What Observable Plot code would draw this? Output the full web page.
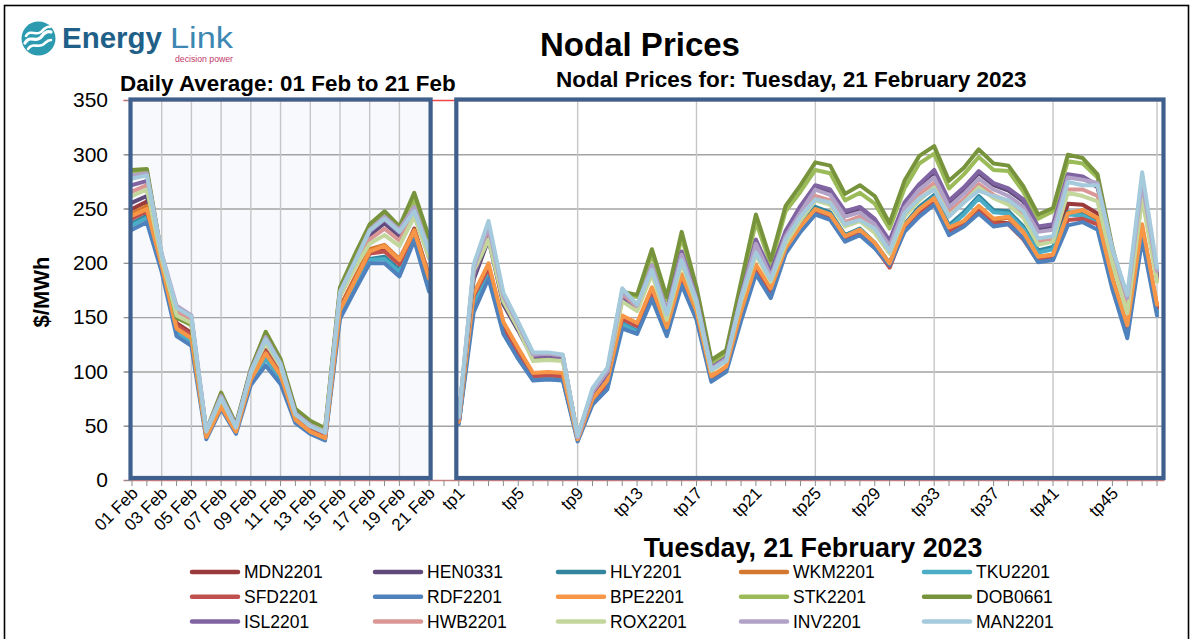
<!DOCTYPE html>
<html><head><meta charset="utf-8">
<script src="https://cdn.jsdelivr.net/npm/d3@7"></script>
<script src="https://cdn.jsdelivr.net/npm/@observablehq/plot@0.6"></script>
<style>
body{margin:0;background:#fff;}
#wrap{position:relative;width:1192px;height:639px;overflow:hidden;background:#fff;font-family:"Liberation Sans",Arial,sans-serif;}
#chart{position:absolute;left:0;top:0;}
#over{position:absolute;left:0;top:0;pointer-events:none;}
</style></head><body>
<div id="wrap"><div id="chart"></div>
<svg id="over" width="1192" height="639" font-family="Liberation Sans, Arial, sans-serif"></svg>
</div>
<script>
// ---- categories & tick labels ----
const dates = ["01 Feb","02 Feb","03 Feb","04 Feb","05 Feb","06 Feb","07 Feb","08 Feb","09 Feb","10 Feb","11 Feb","12 Feb","13 Feb","14 Feb","15 Feb","16 Feb","17 Feb","18 Feb","19 Feb","20 Feb","21 Feb"];
const periods = ["tp1","tp2","tp3","tp4","tp5","tp6","tp7","tp8","tp9","tp10","tp11","tp12","tp13","tp14","tp15","tp16","tp17","tp18","tp19","tp20","tp21","tp22","tp23","tp24","tp25","tp26","tp27","tp28","tp29","tp30","tp31","tp32","tp33","tp34","tp35","tp36","tp37","tp38","tp39","tp40","tp41","tp42","tp43","tp44","tp45","tp46","tp47","tp48"];
const gapLabel = " ";
const dateTicks = ["01 Feb","03 Feb","05 Feb","07 Feb","09 Feb","11 Feb","13 Feb","15 Feb","17 Feb","19 Feb","21 Feb"];
const tpTicks = ["tp1","tp5","tp9","tp13","tp17","tp21","tp25","tp29","tp33","tp37","tp41","tp45"];
const dateGrid = ["03 Feb","05 Feb","07 Feb","09 Feb","11 Feb","13 Feb","15 Feb","17 Feb","19 Feb"];
const tpGrid = ["tp9","tp17","tp25","tp33","tp41","tp48"];
const yTicks = [0,50,100,150,200,250,300,350];

// ---- series ----
const seriesNames = ["MDN2201","HEN0331","HLY2201","WKM2201","TKU2201","SFD2201","RDF2201","BPE2201","STK2201","DOB0661","ISL2201","HWB2201","ROX2201","INV2201","MAN2201"];
const seriesColors = ["#9b3a3a","#604a7b","#31859c","#d4782f","#4bacc6","#c0504d","#4f81bd","#f79646","#9bbb59","#77933c","#8064a2","#d99694","#c3d69b","#b3a2c7","#a5cadb"];

// daily averages 01 Feb .. 21 Feb
const dailyMDN2201 = [250,257,199,145,136,42,72,47,95,120,100,58,47,41,158,185,211,214,201,232,188];
const dailyHEN0331 = [256,262,204,156,147,44,77,50,100,130,107,62,51,44,170,197,226,237,225,248,205];
const dailyHLY2201 = [237,244,196,138,129,41,70,46,92,113,95,56,46,40,154,181,204,206,194,228,182];
const dailyWKM2201 = [246,253,199,143,133,41,70,46,94,119,99,57,46,40,160,187,213,217,204,231,188];
const dailyTKU2201 = [235,242,195,137,128,41,69,46,91,112,94,56,45,40,153,180,203,204,192,226,181];
const dailySFD2201 = [241,248,198,143,134,42,71,47,95,119,99,57,46,40,158,185,209,211,199,230,186];
const dailyRDF2201 = [231,238,192,133,124,38,66,43,88,106,89,53,43,37,149,175,200,200,188,221,174];
const dailyBPE2201 = [244,250,198,140,131,40,68,45,93,117,97,56,45,39,157,184,211,216,203,230,186];
const dailySTK2201 = [284,285,207,150,143,45,79,51,102,134,110,64,54,47,176,205,233,244,230,258,218];
const dailyDOB0661 = [286,287,207,150,144,46,81,52,103,137,112,66,55,48,178,208,236,248,234,265,224];
const dailyISL2201 = [272,276,206,157,149,45,77,50,101,131,107,62,51,44,172,200,229,240,228,250,208];
const dailyHWB2201 = [266,272,205,155,148,45,75,49,99,128,105,61,50,44,171,198,222,232,221,246,207];
const dailyROX2201 = [262,268,204,152,145,45,75,49,99,127,105,61,51,45,170,196,218,226,216,243,205];
const dailyINV2201 = [281,283,209,161,152,46,78,50,101,132,108,62,51,44,174,202,231,243,231,252,212];
const dailyMAN2201 = [278,281,208,159,151,46,76,49,100,130,107,61,50,44,173,201,230,241,229,248,211];

// trading periods tp1 .. tp48, 21 February 2023
const tpMDN2201 = [54,172,197,143,119,96,97,96,39,75, 90,150,143,176,139,187,154,95,104,153, 197,174,211,231,247,242,222,228,216,198, 232,248,258,230,236,250,238,237,223,203, 207,255,254,246,186,142,232,160];
const tpHEN0331 = [56,185,222,162,138,112,113,112,40,80, 98,168,158,196,155,210,168,104,113,170, 220,190,228,251,269,266,246,250,239,219, 254,272,284,256,268,283,272,267,257,232, 234,281,279,270,212,165,270,186];
const tpHLY2201 = [53,163,190,139,116,94,95,94,38,73, 87,145,138,172,136,184,151,94,102,151, 194,172,213,234,252,247,226,232,219,200, 236,252,263,235,247,262,249,248,234,212, 215,247,246,239,180,137,226,156];
const tpWKM2201 = [54,171,198,144,120,97,98,97,39,75, 91,151,144,177,140,189,155,96,104,155, 198,176,213,233,249,244,224,230,218,199, 234,249,259,232,238,252,240,242,229,206, 208,246,249,241,186,142,233,161];
const tpTKU2201 = [53,162,189,138,115,93,94,93,38,72, 86,144,137,171,135,183,150,93,102,150, 193,171,212,233,250,245,225,231,218,200, 235,250,261,233,245,260,247,246,232,210, 213,245,244,237,178,135,225,155];
const tpSFD2201 = [54,170,196,142,118,96,97,96,39,74, 89,149,142,175,138,186,153,95,103,152, 196,173,210,230,246,241,221,227,215,196, 231,246,256,229,235,249,237,236,222,202, 206,240,241,236,184,140,230,159];
const tpRDF2201 = [52,155,186,135,112,92,93,92,36,70, 84,140,135,167,133,180,148,91,100,147, 190,168,209,229,245,240,220,226,214,198, 229,243,254,226,234,246,234,236,223,201, 203,235,238,231,176,131,222,152];
const tpBPE2201 = [54,172,200,146,122,99,100,99,38,75, 92,152,145,178,141,190,156,96,105,156, 199,177,214,234,250,245,225,231,219,200, 235,250,260,233,239,253,241,243,229,206, 208,246,249,242,186,143,236,162];
const tpSTK2201 = [58,190,224,165,141,113,114,113,41,82, 100,172,169,208,166,224,175,108,117,178, 238,199,248,266,286,283,258,265,255,232, 269,292,301,269,282,298,286,285,266,241, 248,294,292,279,212,160,265,190];
const tpDOB0661 = [58,190,226,166,142,114,115,114,41,82, 100,174,171,213,169,229,178,111,120,183, 245,203,253,272,293,290,264,272,262,237, 276,299,308,276,288,305,292,290,271,245, 251,300,297,282,215,160,262,190];
const tpISL2201 = [57,188,228,166,141,114,115,113,40,81, 99,170,160,198,156,211,168,104,113,170, 222,192,230,253,272,268,248,252,241,221, 256,273,286,258,270,285,274,269,259,234, 236,282,280,272,212,165,270,188];
const tpHWB2201 = [58,196,232,169,143,116,117,115,40,82, 101,172,160,195,152,205,165,102,111,168, 212,186,220,242,262,258,238,243,233,213, 248,264,274,248,259,273,263,257,245,220, 223,268,268,262,205,158,266,185];
const tpROX2201 = [58,193,222,165,140,110,111,110,40,83, 101,165,156,190,148,200,162,101,110,165, 208,183,218,240,258,254,234,239,228,209, 243,258,270,244,256,270,260,254,242,217, 220,265,262,257,200,154,260,183];
const tpINV2201 = [58,196,234,170,144,116,117,115,40,82, 101,174,161,198,155,208,167,103,112,169, 218,188,225,247,268,263,243,247,236,216, 251,268,279,252,264,278,268,262,252,229, 231,279,277,274,213,168,275,193];
const tpMAN2201 = [59,199,239,173,146,118,118,116,41,85, 104,177,162,194,153,203,165,102,110,168, 210,185,222,243,259,256,236,240,232,211, 246,260,268,243,256,267,262,258,248,223, 225,275,272,272,213,171,284,196];

const dailyVals = [dailyMDN2201,dailyHEN0331,dailyHLY2201,dailyWKM2201,dailyTKU2201,dailySFD2201,dailyRDF2201,dailyBPE2201,dailySTK2201,dailyDOB0661,dailyISL2201,dailyHWB2201,dailyROX2201,dailyINV2201,dailyMAN2201];
const tpVals = [tpMDN2201,tpHEN0331,tpHLY2201,tpWKM2201,tpTKU2201,tpSFD2201,tpRDF2201,tpBPE2201,tpSTK2201,tpDOB0661,tpISL2201,tpHWB2201,tpROX2201,tpINV2201,tpMAN2201];

// ---- tidy table for Plot ----
const rows = [];
seriesNames.forEach((name, k) => {
  dailyVals[k].forEach((v, i) => rows.push({series: name, panel: "daily", cat: dates[i], v}));
  tpVals[k].forEach((v, i) => rows.push({series: name, panel: "tp", cat: periods[i], v}));
});
const cats = [...dates, gapLabel, ...periods];

const FONT = "Liberation Sans, Arial, sans-serif";
const chart = Plot.plot({
  width: 1192, height: 639,
  marginTop: 100, marginBottom: 159, marginLeft: 131.5, marginRight: 35.5,
  style: {fontFamily: FONT, background: "transparent", overflow: "visible"},
  x: {type: "point", domain: cats, padding: 0, align: 0.5, label: null, axis: null},
  y: {domain: [0, 350], label: null, axis: null},
  color: {domain: seriesNames, range: seriesColors},
  marks: [
    Plot.gridY(yTicks.filter(t => t > 0 && t < 350), {stroke: "#a3a3a3", strokeOpacity: 1, strokeWidth: 1.4, insetLeft: -8, insetRight: -8}),
    Plot.ruleX([...dateGrid, ...tpGrid], {stroke: "#c6c6c6", strokeWidth: 1.4}),
    Plot.ruleY([350], {stroke: "#f04545", strokeWidth: 1.5, insetLeft: -8, insetRight: -8}),
    Plot.ruleY([0], {stroke: "#c98080", strokeWidth: 1.5, insetLeft: -8, insetRight: -8}),
    Plot.axisY(yTicks, {anchor: "left", tickSize: 7, tickPadding: 17, fontSize: 21, stroke: "#8c8c8c", label: null}),
    Plot.axisX(cats, {anchor: "bottom", tickSize: 6, tickPadding: 0, tickFormat: () => "", stroke: "#8c8c8c", label: null}),
    Plot.axisX([...dateTicks, ...tpTicks], {anchor: "bottom", tickSize: 0, tickPadding: 10, tickRotate: -45, fontSize: 17, dx: 3, label: null}),
    Plot.line(rows, {x: "cat", y: "v", z: d => d.series + d.panel, stroke: "series", strokeWidth: 4, strokeLinejoin: "round"})
  ]
});
document.getElementById("chart").append(chart);

// panel boxes positioned through the chart's own scales
const X = chart.scale("x"), Y = chart.scale("y");
const svg = d3.select(chart);
const yTop = Y.apply(350), yBot = Y.apply(0);
const lx0 = X.apply(dates[0]) - 1, lx1 = X.apply(dates[dates.length - 1]) + 2;
const rx0 = X.apply(periods[0]) - 2, rx1 = X.apply(periods[periods.length - 1]) + 7;
svg.insert("rect", "g").attr("x", lx0).attr("y", yTop).attr("width", lx1 - lx0).attr("height", yBot - 2 - yTop).attr("fill", "#f7f9fc");
for (const [a, b] of [[lx0, lx1], [rx0, rx1]]) {
  svg.append("rect").attr("x", a).attr("y", yTop - 0.5).attr("width", b - a).attr("height", yBot - 2 - yTop + 0.5)
    .attr("fill", "none").attr("stroke", "#3f5f8d").attr("stroke-width", 4.2);
}

// ---- overlay: border, logo, titles, legend ----
const over = d3.select("#over");
over.append("rect").attr("x", 4.5).attr("y", 5.5).attr("width", 1184).attr("height", 700).attr("fill", "none").attr("stroke", "#000").attr("stroke-width", 1.6);
// logo
const logo = over.append("g");
logo.append("circle").attr("cx", 38.5).attr("cy", 38.5).attr("r", 17).attr("fill", "#2c9bb0");
[["M25,43 C30,34 36,44 42,36 C45,32 48,31 51,32", 3.2], ["M26,36 C31,28 37,38 43,30 C46,27 48,26 50,27", 2.6], ["M28,49 C33,41 39,50 45,43 C47,41 49,40 51,40", 2.6]].forEach(([d, w]) =>
  logo.append("path").attr("d", d).attr("fill", "none").attr("stroke", "#fff").attr("stroke-width", w).attr("stroke-linecap", "round"));
logo.append("text").attr("x", 62).attr("y", 48).attr("font-size", 29).attr("font-weight", "bold").attr("fill", "#1f6089").attr("textLength", 100).attr("lengthAdjust", "spacingAndGlyphs").text("Energy");
logo.append("text").attr("x", 170).attr("y", 48).attr("font-size", 29).attr("fill", "#3d87b2").attr("textLength", 63).attr("lengthAdjust", "spacingAndGlyphs").text("Link");
logo.append("text").attr("x", 175).attr("y", 62).attr("font-size", 9).attr("fill", "#c2396b").attr("textLength", 58).attr("lengthAdjust", "spacingAndGlyphs").text("decision power");

const T = (x, y, s, size, opts = {}) => {
  const t = over.append("text").attr("x", x).attr("y", y).attr("font-size", size).attr("fill", "#000").text(s);
  if (opts.bold) t.attr("font-weight", "bold");
  if (opts.anchor) t.attr("text-anchor", opts.anchor);
  if (opts.transform) t.attr("transform", opts.transform);
  return t;
};
T(640, 56, "Nodal Prices", 33, {bold: true, anchor: "middle"});
T(120, 91, "Daily Average: 01 Feb to 21 Feb", 22.4, {bold: true});
T(556, 87, "Nodal Prices for: Tuesday, 21 February 2023", 22.5, {bold: true});
T(0, 0, "$/MWh", 22, {bold: true, anchor: "middle", transform: "translate(49,292) rotate(-90)"});
T(813, 557, "Tuesday, 21 February 2023", 26.8, {bold: true, anchor: "middle"});

seriesNames.forEach((name, k) => {
  const col = k % 5, row = Math.floor(k / 5);
  const x = 190 + col * 183, y = 572 + row * 24.8;
  over.append("line").attr("x1", x + 2).attr("x2", x + 48).attr("y1", y).attr("y2", y)
    .attr("stroke", seriesColors[k]).attr("stroke-width", 4.5).attr("stroke-linecap", "round");
  T(x + 54, y + 6.3, name, 17.5);
});
</script>
</body></html>
